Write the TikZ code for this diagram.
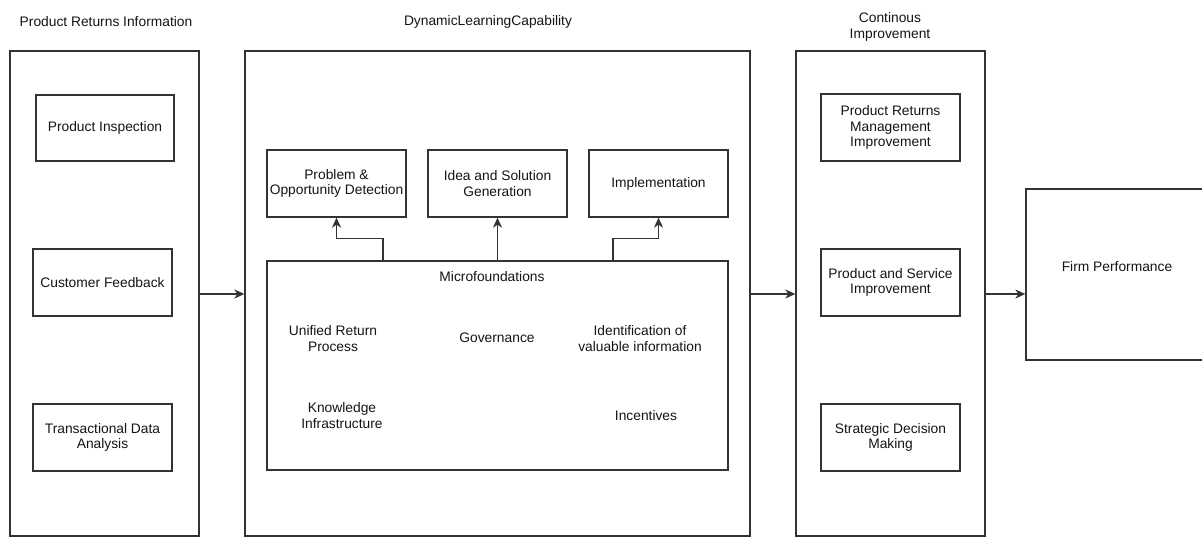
\documentclass[tikz,border=0pt]{standalone}
\usepackage{fontspec}
\setmainfont{Liberation Sans}
\usetikzlibrary{arrows.meta,calc}
\definecolor{linec}{HTML}{333333}
\definecolor{textc}{HTML}{151515}
\tikzset{
  box/.style={draw=linec, line width=1.3pt, rectangle, inner sep=0pt, text=textc,
    align=center, font=\fontsize{13.8pt}{15.8pt}\selectfont},
  txt/.style={inner sep=0pt, text=textc, align=center, font=\fontsize{13.8pt}{15.8pt}\selectfont},
  arr/.style={draw=linec, line width=1.3pt, -{Stealth[length=10pt,width=9pt,inset=3pt]}}
}
\begin{document}
\begin{tikzpicture}[x=1pt,y=-1pt]
\useasboundingbox (0,0) rectangle (1202,537);
\fill[white] (0,0) rectangle (1202,537);
% titles
\node[txt] (t1) at (106,22) {Product Returns Information};
\node[txt] (t2) at (488,22) {DynamicLearningCapability};
\node[txt] (t3) at (890,27) {Continous\\Improvement};
% outer boxes
\node[box, minimum width=189pt, minimum height=485pt] (left) at (104.5,293.5) {};
\node[box, minimum width=505pt, minimum height=485pt] (mid) at (497.5,293.5) {};
\node[box, minimum width=189pt, minimum height=485pt] (cont) at (890.5,293.5) {};
\node[box, minimum width=184pt, minimum height=171pt] (firm) at (1118,274.5) {};
\node[txt] (firmt) at (1117,267) {Firm Performance};
% left inner
\node[box, minimum width=138pt, minimum height=66pt] (pi) at (105,128) {Product Inspection};
\node[box, minimum width=139pt, minimum height=67pt] (cf) at (102.5,282.5) {Customer Feedback};
\node[box, minimum width=139pt, minimum height=67pt] (tda) at (102.5,437.5) {Transactional Data\\Analysis};
% middle inner
\node[box, minimum width=139pt, minimum height=67pt] (prob) at (336.5,183.5) {Problem \&\\Opportunity Detection};
\node[box, minimum width=139pt, minimum height=67pt] (idea) at (497.5,183.5) {Idea and Solution\\Generation};
\node[box, minimum width=139pt, minimum height=67pt] (impl) at (658.5,183.5) {Implementation};
\node[box, minimum width=461pt, minimum height=209pt] (micro) at (497.5,365.5) {};
\node[txt] (mf) at (492,277) {Microfoundations};
\node[txt] (urp) at (333,338.5) {Unified Return\\Process};
\node[txt] (gov) at (497,338) {Governance};
\node[txt] (idv) at (640,338.5) {Identification of\\valuable information};
\node[txt] (ki) at (342,415.5) {Knowledge\\Infrastructure};
\node[txt] (inc) at (646,416) {Incentives};
% right inner
\node[box, minimum width=139pt, minimum height=67pt] (prm) at (890.5,127.5) {Product Returns\\Management\\Improvement};
\node[box, minimum width=139pt, minimum height=67pt] (psi) at (890.5,282.5) {Product and Service\\Improvement};
\node[box, minimum width=139pt, minimum height=67pt] (sdm) at (890.5,437.5) {Strategic Decision\\Making};
% arrows
\draw[arr] (left.east |- 0,294) -- (mid.west |- 0,294);
\draw[arr] (mid.east |- 0,294) -- (cont.west |- 0,294);
\draw[arr] (cont.east |- 0,294) -- (firm.west |- 0,294);
\draw[arr] ([xshift=-114.5pt]micro.north) |- ([yshift=-21pt]prob.south) -- (prob.south);
\draw[arr] (micro.north) -- (idea.south);
\draw[arr] ([xshift=115.5pt]micro.north) |- ([yshift=-21pt]impl.south) -- (impl.south);
\end{tikzpicture}
\end{document}
